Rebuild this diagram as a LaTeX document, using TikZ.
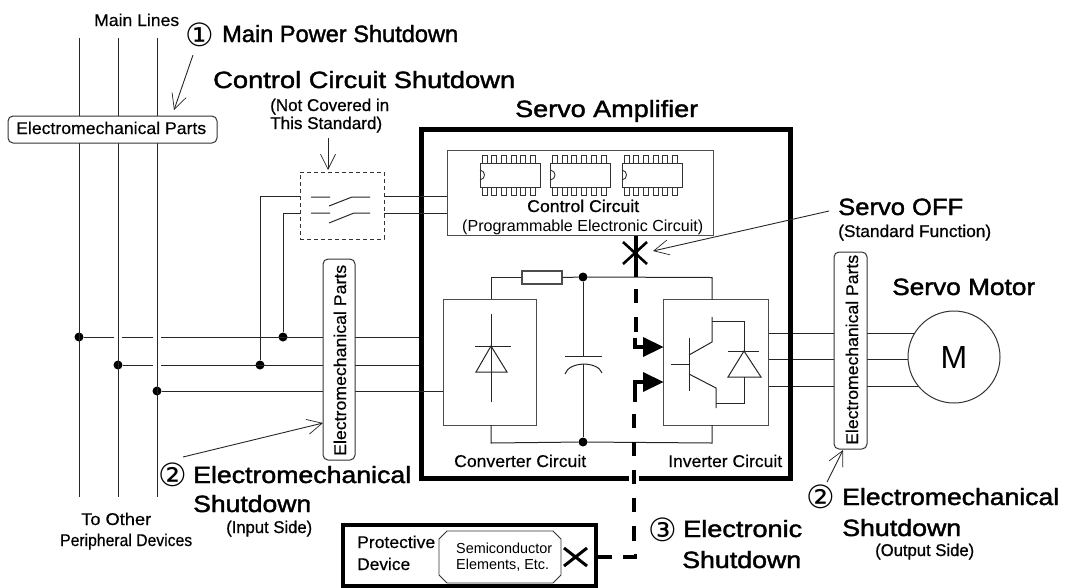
\documentclass[tikz,border=0pt]{standalone}
\usepackage{graphicx}
\usepackage{fontspec}
\setmainfont{Liberation Sans}
\newfontfamily\hdfont[FakeBold=1.6]{Liberation Sans}
\newfontfamily\mdfont[FakeBold=0.8]{Liberation Sans}
\newfontfamily\ltfont[FakeBold=0.4]{Liberation Sans}
\newfontfamily\symfont{DejaVu Sans}
\usetikzlibrary{arrows.meta}
\newcommand\WW[2]{\resizebox{#1pt}{\height}{#2}}
\tikzset{
  x=1pt,y=-1pt,
  thinw/.style={line width=1pt,black!85},
  greybox/.style={draw=black!70,line width=1pt,fill=white,inner sep=0pt},
  partsbox/.style={draw=black!80,line width=1pt,fill=white,rounded corners=5pt,inner sep=0pt},
  dot/.style={circle,fill=black,inner sep=0pt,minimum size=9pt},
  callout/.style={line width=.9pt,black!85,-{Straight Barb[length=15pt,width=15pt,line width=.7pt]}},
  thickdash/.style={line width=3.4pt,black},
  lab/.style={anchor=base west,inner sep=0pt},
  big/.style={lab,font=\hdfont\fontsize{23.5}{26}\selectfont},
  mid/.style={lab,font=\ltfont\fontsize{17}{19}\selectfont},
  midb/.style={lab,font=\mdfont\fontsize{17}{19}\selectfont},
  circ/.style={inner sep=0pt,font=\symfont\fontsize{32}{34}\selectfont},
}
\begin{document}
\begin{tikzpicture}
\useasboundingbox (0,0) rectangle (1067,587);
% junctions
\node[dot] (a1) at (79,337) {};
\node[dot] (b1) at (118,365) {};
\node[dot] (c1) at (157,391) {};
\node[dot] (b2) at (260,365) {};
\node[dot] (a2) at (283,337) {};
\coordinate (frameL) at (421,0);
% bus lines
\draw[thinw] (a1) -- (frameL |- a1);
\draw[thinw] (b1) -- (frameL |- b1);
\draw[white,line width=7pt] (114,338) -- (122,338) (153,338) -- (161,338) (153,365) -- (161,365);
\coordinate (L1t) at (79,38); \coordinate (L1b) at (79,497);
\coordinate (L2t) at (118,38); \coordinate (L2b) at (118,497);
\coordinate (L3t) at (157,38); \coordinate (L3b) at (157,497);
\draw[thinw] (L1t) -- (L1b);
\draw[thinw] (L2t) -- (L2b);
\draw[thinw] (L3t) -- (L3b);
% output wires
\coordinate (o1) at (768,333); \coordinate (o2) at (768,359); \coordinate (o3) at (768,386);
\coordinate (mc) at (954,357);
\draw[thinw] (o1) -- (mc |- o1);
\draw[thinw] (o2) -- (mc |- o2);
\draw[thinw] (o3) -- (mc |- o3);
\node[draw=black!80,line width=1pt,circle,fill=white,minimum size=92pt,inner sep=0pt,font=\fontsize{32}{36}\selectfont] (motor) at (mc) {M};
% frame
\node[draw,line width=5pt,minimum width=369.5pt,minimum height=348.5pt,inner sep=0pt] (amp) at (605.75,303.75) {};
% converter / inverter / control
\node[greybox,minimum width=93pt,minimum height=126pt] (conv) at (489.5,362) {};
\node[greybox,minimum width=105pt,minimum height=126pt] (inv) at (715.5,362) {};
\node[greybox,minimum width=266pt,minimum height=85pt] (ctrl) at (580,192.5) {};
\draw[thinw] (c1) -- (conv.west |- c1);
% parts boxes
\node[partsbox,minimum width=209pt,minimum height=27pt] (pt) at (112.5,129.5) {};
\node[partsbox,minimum width=32pt,minimum height=201pt] (pl) at (339,359.5) {};
\node[partsbox,minimum width=33pt,minimum height=197pt] (pr) at (850.5,350.5) {};
\node[mid] (tpt) at (16,134) {\WW{190}{Electromechanical Parts}};
\node[mid,rotate=90] (tpl) at (346,456) {\WW{191}{Electromechanical Parts}};
\node[mid,rotate=90] (tpr) at (858,445) {\WW{190}{Electromechanical Parts}};
% switch box
\node[draw=black!80,dash pattern=on 4pt off 3pt,line width=.9pt,fill=white,minimum width=84pt,minimum height=67pt,inner sep=0pt] (sw) at (342,205.5) {};
\coordinate (s1) at (300,196); \coordinate (s2) at (300,213);
\draw[thinw] (s1) -- (b2 |- s1) -- (b2);
\draw[thinw] (s2) -- (a2 |- s2) -- (a2);
\draw[thinw] (sw.east |- s1) -- (ctrl.west |- s1);
\draw[thinw] (sw.east |- s2) -- (ctrl.west |- s2);
\draw[thinw] (311,197) -- (330,197) (329,206) -- (352,197) -- (370,197);
\draw[thinw] (311,213) -- (330,213) (329,223) -- (354,213) -- (370,213);
% ICs
\foreach \ox in {480,550.5,622}{
  \draw[black!80,line width=1pt,fill=white] (\ox,163) rectangle ++(60,24);
  \draw[black!80,line width=.9pt] (\ox,170) .. controls ({\ox+6},171) and ({\ox+6},179) .. (\ox,180);
  \foreach \i in {0,...,5}{
    \draw[black!80,line width=.9pt] ({\ox+2+9.7*\i},163) -- ++(0,-8) -- ++(5,0) -- ++(0,8);
    \draw[black!80,line width=.9pt] ({\ox+2+9.7*\i},187) -- ++(0,8) -- ++(5,0) -- ++(0,-8);
  }
}
% DC bus
\node[dot] (d1) at (583,277) {};
\node[dot] (d2) at (583,442) {};
\node[draw=black!70,line width=1.1pt,fill=white,minimum width=40pt,minimum height=13pt,inner sep=0pt] (res) at (542,277.5) {};
\draw[thinw] (491,299) -- (491,277.5) -- (res.west);
\draw[thinw] (res.east) -- (d1);
\draw[thinw] (d1) -- (712,277.5) -- (712,299);
\draw[thinw] (491,425) -- (491,443) -- (d2);
\draw[thinw] (d2) -- (712,443) -- (712,425);
\coordinate (capA) at (583,356); \coordinate (capB) at (583,364);
\draw[thinw] (d1) -- (capA);
\draw[thinw] (565,356) -- (602,356);
\draw[thinw] (565,374) .. controls (569,361) and (598,361) .. (602,373);
\draw[thinw] (capB) -- (d2);
% converter diode
\draw[thinw] (491,314) -- (491,402);
\draw[thinw] (475,346) -- (511,346);
\draw[thinw] (491,346) -- (476,372) -- (507,372) -- cycle;
% IGBT
\draw[thinw] (689,338) -- (689,391);
\draw[thinw] (671,364.5) -- (689,364.5);
\draw[thinw] (689,355) -- (712,342) -- (712,317);
\draw[thinw] (712,321) -- (744,321) -- (744,351);
\draw[thinw] (728,351) -- (759,351);
\draw[thinw] (744,351) -- (728,377) -- (761,377) -- cycle;
\draw[thinw] (744,377) -- (744,403) -- (716,403);
\draw[thinw] (689,374) -- (716,388) -- (716,408);
% protective device
\node[draw,line width=4pt,minimum width=253pt,minimum height=61.5pt,inner sep=0pt] (prot) at (469.5,555.25) {};
\draw[black!80,line width=.9pt] (447,531) -- (553,531) -- (561,539) -- (561,575) -- (553,583) -- (447,583) -- (439,575) -- (439,539) -- cycle;
% thick control lines
\coordinate (X1) at (636,253);
\coordinate (X2) at (575,557);
\draw[line width=2.6pt] (623,242) -- (647,264) (623,264) -- (647,242);
\draw[line width=3pt] (564,548) -- (587,566) (564,566) -- (587,548);
\draw[thickdash] (ctrl.south -| X1) -- (636,277);
\draw[thickdash] (636,289) -- (636,303);
\draw[thickdash] (636,317) -- (636,332);
\draw[thickdash] (635,338) -- (635,347) -- (648,347);
\fill (643,337) -- (663.5,347) -- (643,357) -- cycle;
\draw[thickdash] (635,402) -- (635,382) -- (648,382);
\fill (643,372) -- (663.5,382) -- (643,392) -- cycle;
\draw[white,line width=10pt] (634,443) -- (634,445);
\draw[thickdash] (634,414) -- (634,428);
\draw[white,line width=10pt] (634,474) -- (634,481);
\draw[thickdash] (634,442) -- (634,456);
\draw[thickdash] (634,470) -- (634,484);
\draw[thickdash] (634,498) -- (634,512);
\draw[thickdash] (634,526) -- (634,541);
\draw[thickdash] (623,557) -- (635.7,557) -- (635.7,554);
\draw[thickdash] (597,557) -- (612,557);
% callouts
\coordinate (c1s) at (193,55);  \coordinate (c1e) at (174,110);
\coordinate (c2s) at (328,138); \coordinate (c2e) at (328,170);
\coordinate (c3s) at (829,211); \coordinate (c3e) at (653,251);
\coordinate (c4s) at (183,457); \coordinate (c4e) at (323,423);
\coordinate (c5s) at (827,482); \coordinate (c5e) at (843,450);
\foreach \p in {1,...,5}{\draw[callout] (c\p s) -- (c\p e);}
% labels
\node[mid] (t1) at (94,26) {\WW{85}{Main Lines}};
\node[circ] (n1) at (200,35) {①};
\node[big] (t2) at (222,42) {\WW{236}{Main Power Shutdown}};
\node[big] (t3) at (213,88) {\WW{302}{Control Circuit Shutdown}};
\node[midb] (t4) at (270,111) {\WW{119}{(Not Covered in}};
\node[midb] (t5) at (270,129) {\WW{112}{This Standard)}};
\node[big] (t6) at (515,117) {\WW{183}{Servo Amplifier}};
\node[midb] (t7) at (527,212) {\WW{112}{Control Circuit}};
\node[lab,font=\fontsize{16}{18}\selectfont] (t8) at (462,231) {\WW{241}{(Programmable Electronic Circuit)}};
\node[big] (t9) at (838,215) {\WW{125}{Servo OFF}};
\node[midb] (t10) at (838,237) {\WW{153}{(Standard Function)}};
\node[big] (t11) at (892,295) {\WW{143}{Servo Motor}};
\node[mid] (t12) at (454,467) {\WW{132}{Converter Circuit}};
\node[mid] (t13) at (668,467) {\WW{114}{Inverter Circuit}};
\node[circ] (n2) at (172.5,475) {②};
\node[big] (t14) at (193,483) {\WW{218}{Electromechanical}};
\node[big] (t15) at (193,512) {\WW{118}{Shutdown}};
\node[midb] (t16) at (226,533) {\WW{86}{(Input Side)}};
\node[mid] (t17) at (81,525) {\WW{70}{To Other}};
\node[mid] (t18) at (60,546) {\WW{132}{Peripheral Devices}};
\node[circ] (n3) at (821,497) {②};
\node[big] (t19) at (842,505) {\WW{217}{Electromechanical}};
\node[big] (t20) at (842,536) {\WW{119}{Shutdown}};
\node[midb] (t21) at (875,556) {\WW{99}{(Output Side)}};
\node[circ] (n4) at (662.5,530) {③};
\node[big] (t22) at (683,537) {\WW{119}{Electronic}};
\node[big] (t23) at (682,568) {\WW{119}{Shutdown}};
\node[mid] (t24) at (357,548) {\WW{78}{Protective}};
\node[mid] (t25) at (357,570) {\WW{53}{Device}};
\node[lab,font=\fontsize{14.5}{16}\selectfont] (t26) at (456,553) {\WW{96}{Semiconductor}};
\node[lab,font=\fontsize{14.5}{16}\selectfont] (t27) at (456,569) {\WW{93}{Elements, Etc.}};
\end{tikzpicture}
\end{document}
